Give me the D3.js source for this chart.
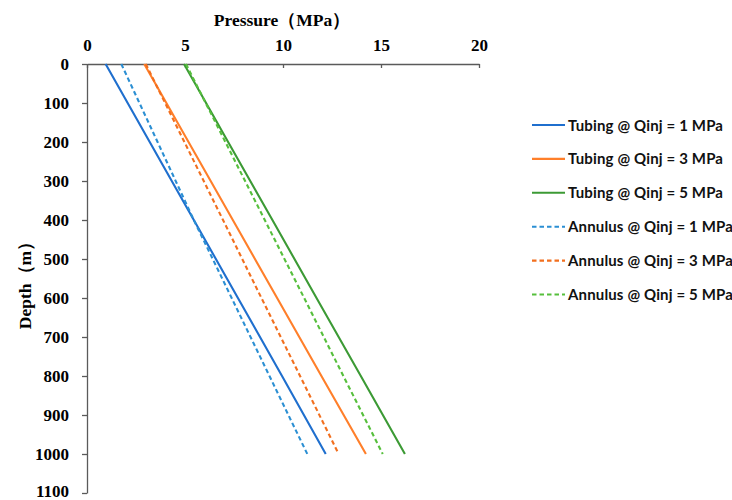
<!DOCTYPE html>
<html>
<head>
<meta charset="utf-8">
<script src="https://cdn.jsdelivr.net/npm/d3@7"></script>
<style>
  body { margin: 0; background: #fff; }
  svg { display: block; }
</style>
</head>
<body>
<svg id="chart" width="732" height="500"></svg>
<script>
// ---- data ----
const depths = [0, 200, 400, 600, 800, 1000];
const tubing1 = [0.95, 3.20, 5.45, 7.70, 9.95, 12.18];
const tubing3 = [2.92, 5.18, 7.44, 9.70, 11.96, 14.23];
const tubing5 = [4.95, 7.20, 9.46, 11.71, 13.97, 16.22];
const annulus1 = [1.75, 3.60, 5.45, 7.38, 9.31, 11.24];
const annulus3 = [3.00, 4.97, 6.94, 8.90, 10.87, 12.84];
const annulus5 = [5.05, 7.06, 9.07, 11.08, 13.08, 15.09];
const seriesNames = ["Tubing @ Qinj = 1 MPa", "Tubing @ Qinj = 3 MPa", "Tubing @ Qinj = 5 MPa",
                     "Annulus @ Qinj = 1 MPa", "Annulus @ Qinj = 3 MPa", "Annulus @ Qinj = 5 MPa"];
const xTicks = [0, 5, 10, 15, 20];
const yTicks = [0, 100, 200, 300, 400, 500, 600, 700, 800, 900, 1000, 1100];
const xTitle = "Pressure（MPa）";
const yTitle = "Depth（m）";

// ---- styles ----
const colors = ["#1F6FCE", "#FF7F2A", "#3C9A35", "#2B8FD3", "#F26F1E", "#56BF3C"];
const dashed = [false, false, false, true, true, true];
const seriesValues = [tubing1, tubing3, tubing5, annulus1, annulus3, annulus5];

const svg = d3.select("#chart");
const mLeft = 87, mRight = 479, mTop = 64, mBottom = 493;
const x = d3.scaleLinear().domain([0, 20]).range([mLeft, mRight]);
const y = d3.scaleLinear().domain([0, 1100]).range([mTop, mBottom]);
const axisColor = "#5a5a5a";
const serif = "'Liberation Serif', 'Times New Roman', serif";

// top axis
const xAxis = svg.append("g").attr("transform", `translate(0,${mTop})`)
  .call(d3.axisTop(x).tickValues(xTicks).tickFormat(d3.format("d"))
        .tickSizeInner(-4).tickSizeOuter(0));
xAxis.select(".domain").attr("stroke", axisColor).attr("stroke-width", 1.3);
xAxis.selectAll(".tick line").attr("stroke", axisColor).attr("stroke-width", 1.3);
xAxis.selectAll(".tick text").attr("font-family", serif).attr("font-weight", "bold")
  .attr("font-size", 17).attr("fill", "#000").attr("dy", 0).attr("y", -13);

// left axis
const yAxis = svg.append("g").attr("transform", `translate(${mLeft},0)`)
  .call(d3.axisLeft(y).tickValues(yTicks).tickFormat(d3.format("d"))
        .tickSizeInner(5).tickSizeOuter(0).tickPadding(13));
yAxis.select(".domain").attr("stroke", axisColor).attr("stroke-width", 1.3);
yAxis.selectAll(".tick line").attr("stroke", axisColor).attr("stroke-width", 1.3);
yAxis.selectAll(".tick text").attr("font-family", serif).attr("font-weight", "bold")
  .attr("font-size", 17).attr("fill", "#000")
  .attr("dy", d => d === 1100 ? "0.2em" : "0.32em");

// titles
svg.append("text").attr("x", 282).attr("y", 26)
  .attr("text-anchor", "middle").attr("font-family", serif).attr("font-weight", "bold")
  .attr("font-size", 17.5).text(xTitle);
svg.append("text").attr("transform", `translate(31,281) rotate(-90)`)
  .attr("text-anchor", "middle").attr("font-family", serif).attr("font-weight", "bold")
  .attr("font-size", 17.5).text(yTitle);

// lines
const line = d3.line().x(d => x(d[1])).y(d => y(d[0]));
seriesValues.forEach((vals, i) => {
  svg.append("path")
    .datum(depths.map((dep, j) => [dep, vals[j]]))
    .attr("d", line)
    .attr("fill", "none")
    .attr("stroke", colors[i])
    .attr("stroke-width", 2.1)
    .attr("stroke-dasharray", dashed[i] ? "4.5,3" : null);
});

// legend
const lg = svg.append("g");
const legendY0 = 125, legendStep = 33.9;
seriesNames.forEach((name, i) => {
  const yy = legendY0 + i * legendStep;
  lg.append("line").attr("x1", 532).attr("x2", 565).attr("y1", yy).attr("y2", yy)
    .attr("stroke", colors[i]).attr("stroke-width", 2.1)
    .attr("stroke-dasharray", dashed[i] ? "4.5,3" : null);
  lg.append("text").attr("x", 568).attr("y", yy + 5.5)
    .attr("font-family", "Lato, 'Open Sans', sans-serif").attr("font-weight", "bold")
    .attr("font-size", 15).attr("letter-spacing", 0.15).attr("fill", "#111").text(name);
});
</script>
</body>
</html>
